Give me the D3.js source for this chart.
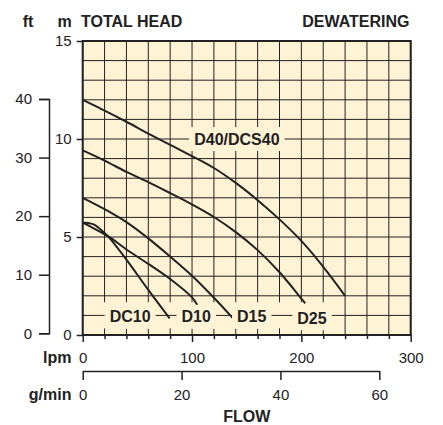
<!DOCTYPE html>
<html>
<head>
<meta charset="utf-8">
<script src="https://cdn.jsdelivr.net/npm/d3@7"></script>
<style>
  html, body { margin: 0; padding: 0; background: #ffffff; }
  svg { display: block; font-family: "Liberation Sans", Arial, Helvetica, sans-serif; }
</style>
</head>
<body>
<div id="chart"></div>
<script>
// ---------- data ----------
const seriesNames = ["D40/DCS40", "D25", "D15", "D10", "DC10"];
const flowD40 = [0, 20, 40, 60, 80, 100, 120, 140, 160, 180, 200, 220, 240];
const headD40 = [12.0, 11.45, 10.88, 10.28, 9.7, 9.13, 8.52, 7.76, 6.88, 5.9, 4.8, 3.48, 2.0];
const flowD25 = [0, 20, 40, 60, 80, 100, 120, 140, 160, 180, 200, 203.5];
const headD25 = [9.42, 8.9, 8.32, 7.8, 7.24, 6.66, 6.02, 5.25, 4.33, 3.2, 1.86, 1.62];
const flowD15 = [0, 20, 40, 60, 80, 100, 120, 137.5];
const headD15 = [7.0, 6.42, 5.76, 4.93, 4.0, 3.02, 1.9, 0.85];
const flowD10 = [0, 10, 20, 25, 40, 60, 80, 100, 104.8];
const headD10 = [5.74, 5.44, 5.14, 4.98, 4.36, 3.63, 2.86, 1.92, 1.53];
const flowDC10 = [0, 5, 10, 15, 20, 25, 40, 60, 79.5];
const headDC10 = [5.72, 5.72, 5.64, 5.45, 5.2, 4.92, 3.85, 2.3, 0.85];

const headTicksM = [0, 5, 10, 15];
const headTicksFt = [0, 10, 20, 30, 40];
const lpmTicks = [0, 20, 40, 60, 80, 100, 120, 140, 160, 180, 200, 220, 240, 260, 280, 300];
const lpmLabels = [0, 100, 200, 300];
const gpmTicks = [0, 20, 40, 60];
const headGrid = [0, 1, 2, 3, 4, 5, 6, 7, 8, 9, 10, 11, 12, 13, 14, 15];

// label anchors (flow lpm, head m)
const curveLabels = [
  { text: "D40/DCS40", flow: 141, head: 10.0 },
  { text: "DC10", flow: 43.4, head: 0.93 },
  { text: "D10", flow: 103.8, head: 0.93 },
  { text: "D15", flow: 154.6, head: 0.93 },
  { text: "D25", flow: 209.7, head: 0.85 }
];

// ---------- layout ----------
const W = 443, H = 425;
const INK = "#222222";
const CREAM = "#FFF3D6";
const FONT_TICK = 15, FONT_BOLD = 16;

const x = d3.scaleLinear().domain([0, 300]).range([82.7, 410.7]);
const y = d3.scaleLinear().domain([0, 15]).range([335, 41]);
const yFt = d3.scaleLinear().domain([0, 40]).range([333.3, 99]);
const xG = d3.scaleLinear().domain([0, 60]).range([82.7, 379.3]);

const svg = d3.select("#chart").append("svg")
  .attr("width", W).attr("height", H);

// plot background
svg.append("rect")
  .attr("x", x(0)).attr("y", y(15))
  .attr("width", x(300) - x(0)).attr("height", y(0) - y(15))
  .attr("fill", CREAM);

// grid
const grid = svg.append("g").attr("stroke", INK).attr("stroke-width", 1);
grid.selectAll("line.v").data(lpmTicks).join("line")
  .attr("x1", d => x(d)).attr("x2", d => x(d))
  .attr("y1", y(0)).attr("y2", y(15));
grid.selectAll("line.h").data(headGrid).join("line")
  .attr("x1", x(0)).attr("x2", x(300))
  .attr("y1", d => y(d)).attr("y2", d => y(d));

// bottom label strip: hides vertical grid, keeps the 1 m line
const stripTop = y(0.93) - 14.5, stripBot = y(0.93) + 11.5;
svg.append("rect")
  .attr("x", x(16.5)).attr("y", stripTop)
  .attr("width", x(231.5) - x(16.5)).attr("height", stripBot - stripTop)
  .attr("fill", CREAM);
svg.append("line")
  .attr("x1", x(16.5)).attr("x2", x(231.5))
  .attr("y1", y(1)).attr("y2", y(1))
  .attr("stroke", INK).attr("stroke-width", 1);

// curves
const series = [
  [flowD40, headD40], [flowD25, headD25], [flowD15, headD15], [flowD10, headD10], [flowDC10, headDC10]
].map((s, i) => ({ name: seriesNames[i], pts: s[0].map((f, j) => [f, s[1][j]]) }));

const line = d3.line()
  .x(d => x(d[0])).y(d => y(d[1]))
  .curve(d3.curveCatmullRom.alpha(0.5));

svg.append("g").selectAll("path").data(series).join("path")
  .attr("d", d => line(d.pts))
  .attr("fill", "none").attr("stroke", INK).attr("stroke-width", 2)
  .attr("stroke-linecap", "butt");

// curve labels with cream boxes
const lg = svg.append("g");
curveLabels.forEach(l => {
  const g = lg.append("g");
  const t = g.append("text")
    .attr("x", x(l.flow)).attr("y", y(l.head))
    .attr("text-anchor", "middle").attr("dominant-baseline", "central")
    .attr("font-size", FONT_BOLD).attr("font-weight", "bold").attr("fill", INK)
    .text(l.text);
  const bb = t.node().getBBox();
  g.insert("rect", "text")
    .attr("x", bb.x - 5).attr("y", y(l.head) - 12)
    .attr("width", bb.width + 10).attr("height", 24)
    .attr("fill", CREAM);
});

// frame
svg.append("rect")
  .attr("x", x(0)).attr("y", y(15))
  .attr("width", x(300) - x(0)).attr("height", y(0) - y(15))
  .attr("fill", "none").attr("stroke", INK).attr("stroke-width", 2);

// ---------- axes ----------
function styleAxis(g) {
  g.selectAll("path, line").attr("stroke", INK).attr("stroke-width", 1.5);
  g.selectAll("text").attr("fill", INK).attr("font-size", FONT_TICK)
    .attr("font-family", "\"Liberation Sans\", Arial, Helvetica, sans-serif");
}

// metres axis
const axM = svg.append("g").attr("transform", `translate(${x(0)},0)`)
  .call(d3.axisLeft(y).tickValues(headTicksM).tickSize(6).tickPadding(5).tickSizeOuter(0));
axM.select(".domain").remove();
styleAxis(axM);

// feet axis (bracket)
const axF = svg.append("g").attr("transform", "translate(49,0)")
  .call(d3.axisLeft(yFt).tickValues(headTicksFt).tickSize(10).tickSizeOuter(10).tickPadding(7));
styleAxis(axF);

// lpm axis
const axL = svg.append("g").attr("transform", `translate(0,${y(0)})`)
  .call(d3.axisBottom(x).tickValues(lpmTicks).tickSizeOuter(0)
    .tickFormat(d => lpmLabels.includes(d) ? d : ""));
axL.select(".domain").remove();
axL.selectAll(".tick line").attr("y2", d => lpmLabels.includes(d) ? 7 : 4);
styleAxis(axL);
axL.selectAll(".tick text").attr("y", 22).attr("dy", null).attr("dominant-baseline", "central");

// g/min axis
const axG = svg.append("g").attr("transform", "translate(0,371)")
  .call(d3.axisBottom(xG).tickValues(gpmTicks).tickSize(9).tickSizeOuter(0));
styleAxis(axG);
axG.selectAll(".tick text").attr("y", 23.3).attr("dy", null).attr("dominant-baseline", "central");

// ---------- titles ----------
function bold(txt, tx, ty, anchor) {
  svg.append("text").attr("x", tx).attr("y", ty)
    .attr("text-anchor", anchor).attr("font-size", FONT_BOLD).attr("font-weight", "bold")
    .attr("fill", INK).text(txt);
}
bold("ft", 33.3, 27.3, "end");
bold("m", 71.7, 27.3, "end");
bold("TOTAL HEAD", 81, 27.3, "start");
bold("DEWATERING", 409.5, 27.3, "end");
bold("lpm", 71.5, 363, "end");
bold("g/min", 71.5, 400, "end");
bold("FLOW", (x(0) + x(300)) / 2, 421.5, "middle");
</script>
</body>
</html>
